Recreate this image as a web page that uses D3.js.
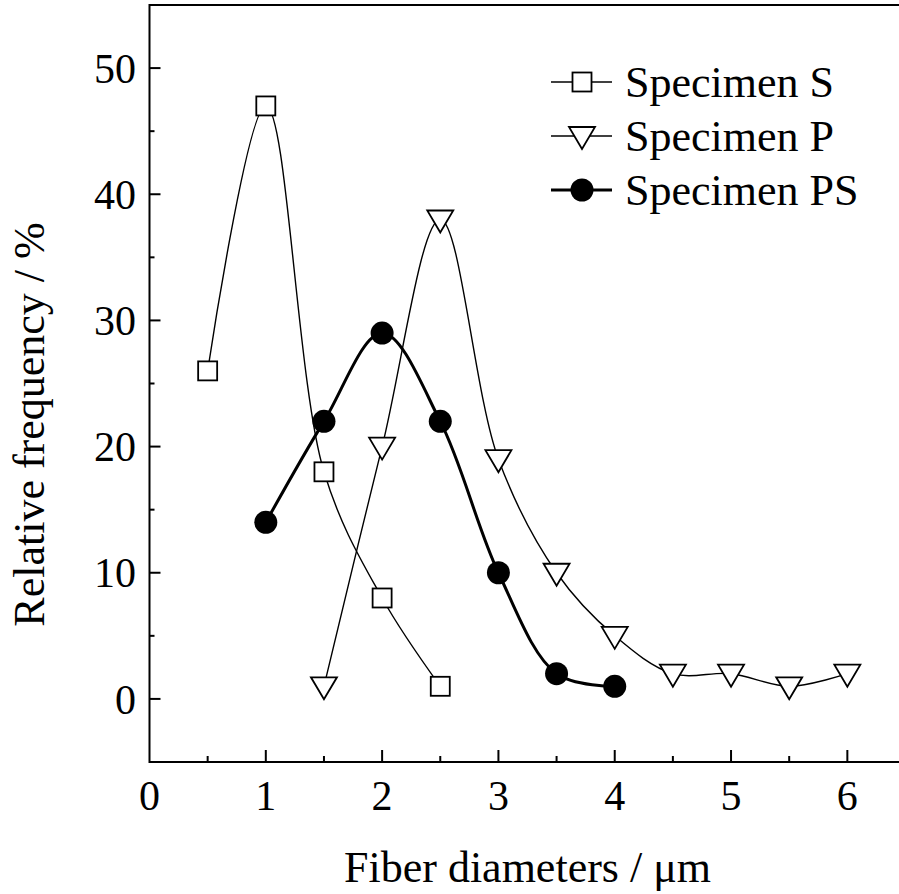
<!DOCTYPE html>
<html>
<head>
<meta charset="utf-8">
<script src="https://cdn.jsdelivr.net/npm/d3@7"></script>
<style>
  body { margin: 0; background: #fff; }
  svg { display: block; }
  text { font-family: "Liberation Serif", "Times New Roman", serif; fill: #000; }
</style>
</head>
<body>
<div id="chart"></div>
<script>
// data
var xS = [0.5, 1, 1.5, 2, 2.5];
var yS = [26, 47, 18, 8, 1];

var xP = [1.5, 2, 2.5, 3, 3.5, 4, 4.5, 5, 5.5, 6];
var yP = [1, 20, 38, 19, 10, 5, 2, 2, 1, 2];

var xPS = [1, 1.5, 2, 2.5, 3, 3.5, 4];
var yPS = [14, 22, 29, 22, 10, 2, 1];

var xTicks = [0, 1, 2, 3, 4, 5, 6];
var yTicks = [0, 10, 20, 30, 40, 50];
var seriesNames = ["Specimen S", "Specimen P", "Specimen PS"];

var W = 899, H = 894;
var margin = {top: 5, left: 149.5};
var plotW = 756, plotH = 757;

var svg = d3.select("#chart").append("svg")
    .attr("width", W)
    .attr("height", H);

var x = d3.scaleLinear().domain([0, 6.5]).range([margin.left, margin.left + plotW]);
var y = d3.scaleLinear().domain([-5, 55]).range([margin.top + plotH, margin.top]);

function zip(xs, ys) {
    return xs.map(function (v, i) { return {x: v, y: ys[i]}; });
}
var series = [
    {name: seriesNames[0], data: zip(xS, yS), symbol: "square", width: 1.4},
    {name: seriesNames[1], data: zip(xP, yP), symbol: "tri", width: 1.4},
    {name: seriesNames[2], data: zip(xPS, yPS), symbol: "circle", width: 3}
];

// frame
svg.append("rect")
    .attr("x", x(0)).attr("y", y(55))
    .attr("width", x(6.5) - x(0)).attr("height", y(-5) - y(55))
    .attr("fill", "none").attr("stroke", "#000").attr("stroke-width", 2);

// x axis ticks (inward)
var g = svg.append("g");
d3.range(0.5, 6.5, 0.5).forEach(function (v) {
    var major = Math.abs(v - Math.round(v)) < 1e-6;
    g.append("line")
        .attr("x1", x(v)).attr("x2", x(v))
        .attr("y1", y(-5)).attr("y2", y(-5) - (major ? 12 : 6))
        .attr("stroke", "#000").attr("stroke-width", 2);
});
g.selectAll(".xl").data(xTicks).enter().append("text")
    .attr("x", function (d) { return x(d); })
    .attr("y", 810)
    .attr("text-anchor", "middle")
    .style("font-size", "42px")
    .text(function (d) { return d; });

// y axis ticks
d3.range(0, 55, 5).forEach(function (v) {
    var major = v % 10 === 0;
    g.append("line")
        .attr("x1", x(0)).attr("x2", x(0) + (major ? 11 : 5))
        .attr("y1", y(v)).attr("y2", y(v))
        .attr("stroke", "#000").attr("stroke-width", 2);
});
g.selectAll(".yl").data(yTicks).enter().append("text")
    .attr("x", 136)
    .attr("y", function (d) { return y(d); })
    .attr("dy", "0.35em")
    .attr("text-anchor", "end")
    .style("font-size", "42px")
    .text(function (d) { return d; });

// axis titles
svg.append("text")
    .attr("x", (x(0) + x(6.5)) / 2)
    .attr("y", 882)
    .attr("text-anchor", "middle")
    .style("font-size", "44px")
    .text("Fiber diameters / \u03BCm");

svg.append("text")
    .attr("transform", "translate(44," + ((y(-5) + y(55)) / 2 + 41) + ") rotate(-90)")
    .attr("text-anchor", "middle")
    .style("font-size", "44px")
    .text("Relative frequency / %");

// curves
var line = d3.line()
    .x(function (d) { return x(d.x); })
    .y(function (d) { return y(d.y); })
    .curve(d3.curveCatmullRom.alpha(0.5));

series.forEach(function (s) {
    svg.append("path")
        .attr("d", line(s.data))
        .attr("fill", "none")
        .attr("stroke", "#000")
        .attr("stroke-width", s.width);
});

function drawSymbol(sel, type, cx, cy) {
    if (type === "square") {
        sel.append("rect")
            .attr("x", cx - 9.5).attr("y", cy - 9.5)
            .attr("width", 19).attr("height", 19)
            .attr("fill", "#fff").attr("stroke", "#000").attr("stroke-width", 1.8);
    } else if (type === "tri") {
        var pts = [[cx - 13, cy - 9], [cx + 13, cy - 9], [cx, cy + 13]];
        sel.append("polygon")
            .attr("points", pts.map(function (p) { return p.join(","); }).join(" "))
            .attr("fill", "#fff").attr("stroke", "#000").attr("stroke-width", 1.8);
    } else {
        sel.append("circle")
            .attr("cx", cx).attr("cy", cy).attr("r", 11.5)
            .attr("fill", "#000");
    }
}

series.forEach(function (s) {
    var gs = svg.append("g");
    s.data.forEach(function (d) {
        drawSymbol(gs, s.symbol, x(d.x), y(d.y));
    });
});

// legend
var legend = svg.append("g");
series.forEach(function (s, i) {
    var ly = 82 + i * 54;
    legend.append("line")
        .attr("x1", 551).attr("x2", 612)
        .attr("y1", ly).attr("y2", ly)
        .attr("stroke", "#000").attr("stroke-width", s.width);
    drawSymbol(legend, s.symbol, 582, ly);
    legend.append("text")
        .attr("x", 625).attr("y", ly)
        .attr("dy", "0.35em")
        .style("font-size", "44px")
        .text(s.name);
});
</script>
</body>
</html>
